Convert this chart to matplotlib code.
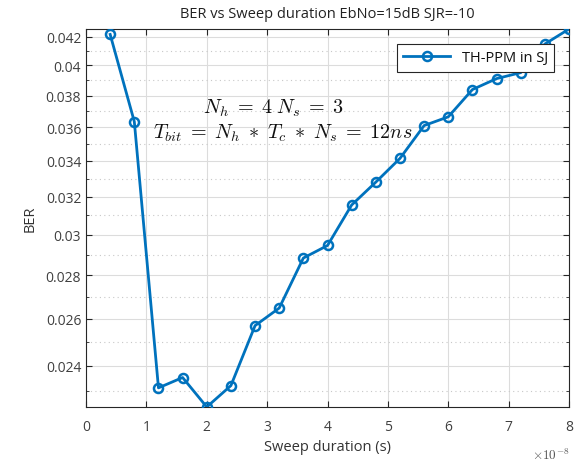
import numpy as np
import matplotlib.pyplot as plt
from matplotlib.ticker import FixedLocator, FuncFormatter, NullFormatter

plt.rcParams['font.family'] = ['Open Sans', 'DejaVu Sans']
plt.rcParams['mathtext.fontset'] = 'cm'

# sweep duration in seconds
sweep = np.arange(1, 21) * 0.4e-8
ber = [0.04216, 0.03635, 0.02312, 0.02353, 0.02238, 0.02321, 0.02570, 0.02648,
       0.02883, 0.02945, 0.03155, 0.03280, 0.03415, 0.03611, 0.03665, 0.03839,
       0.03911, 0.03951, 0.04148, 0.04255]

ytick_major = [0.024, 0.026, 0.028, 0.03, 0.032, 0.034, 0.036, 0.038, 0.04, 0.042]
ytick_minor = [0.023, 0.025, 0.027, 0.029, 0.031, 0.033, 0.035, 0.037, 0.039, 0.041]
xtick_vals = np.arange(0, 9) * 1e-8

edge = '#262626'
blue = '#0072BD'

fig = plt.figure(figsize=(5.82, 4.64), dpi=100)
ax = fig.add_axes([0.1478, 0.1207, 0.8299, 0.8146])

ax.plot(sweep, ber, '-o', color=blue, linewidth=2, markersize=6.5,
        markerfacecolor='none', markeredgewidth=1.8, label='TH-PPM in SJ', zorder=3)

ax.set_yscale('log')
ax.set_xlim(0, 8e-8)
ax.set_ylim(min(ber), max(ber))

ax.xaxis.set_major_locator(FixedLocator(xtick_vals))
ax.xaxis.set_major_formatter(FuncFormatter(lambda v, p: '%g' % round(v / 1e-8, 6)))
ax.yaxis.set_major_locator(FixedLocator(ytick_major))
ax.yaxis.set_major_formatter(FuncFormatter(lambda v, p: '%g' % v))
ax.yaxis.set_minor_locator(FixedLocator(ytick_minor))
ax.yaxis.set_minor_formatter(NullFormatter())

ax.grid(True, which='major', color='#dcdcdc', linewidth=0.8)
ax.grid(True, which='minor', axis='y', color='#c8c8c8', linestyle=(0, (1, 3)), linewidth=0.8)
ax.set_axisbelow(True)

ax.tick_params(which='both', direction='in', top=True, right=True, colors=edge,
               labelcolor='#404040', labelsize=10)
ax.tick_params(which='major', length=4)
ax.tick_params(which='minor', length=2.5)
ax.tick_params(axis='x', pad=9)
for s in ax.spines.values():
    s.set_color(edge)
    s.set_linewidth(0.8)

ax.set_title('BER vs Sweep duration EbNo=15dB SJR=-10', fontsize=10.5, color='#222222', pad=9)
ax.set_xlabel('Sweep duration (s)', fontsize=10.5, color='#333333', labelpad=3)
ax.set_ylabel('BER', fontsize=10.5, color='#333333', labelpad=6)
ax.text(1.0, -0.125, r'$\times10^{-8}$', transform=ax.transAxes, ha='right', va='center',
        fontsize=9.5, color='#555555', family='DejaVu Sans')

ax.text(0.242, 0.78, r'$N_h\;=\;4\;N_s\;=\;3$', transform=ax.transAxes, fontsize=14.5, color='#111111')
ax.text(0.139, 0.713, r'$T_{bit}\;=\;N_h\;*\;T_c\;*\;N_s\;=\;12ns$', transform=ax.transAxes,
        fontsize=14.5, color='#111111')

leg = ax.legend(loc='upper right', bbox_to_anchor=(0.985, 0.98), fontsize=10.5, fancybox=False,
                edgecolor=edge, framealpha=1, handlelength=3.2, borderpad=0.45,
                labelcolor='#111111')
leg.get_frame().set_linewidth(0.8)

fig.savefig('out.png', dpi=100)
